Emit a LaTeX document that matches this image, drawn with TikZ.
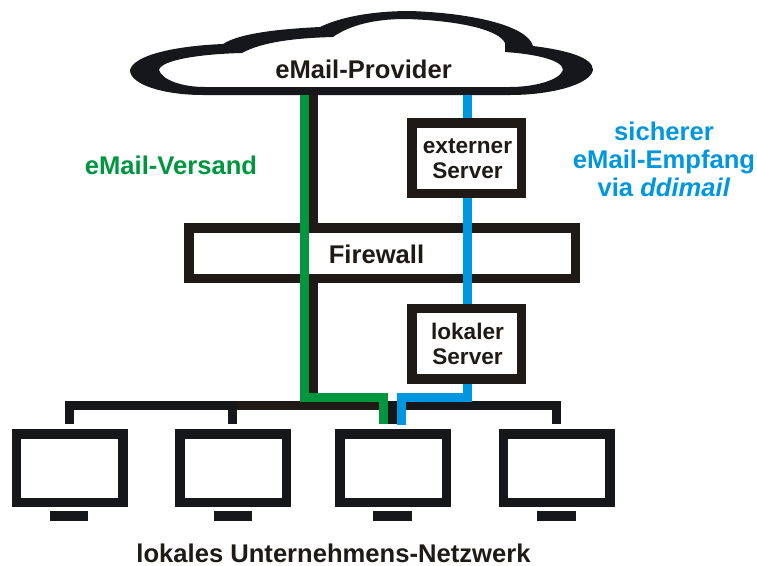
\documentclass[tikz,border=0pt]{standalone}
\usepackage{fontspec}
\setmainfont{Liberation Sans}
\definecolor{ink}{HTML}{16171A}
\definecolor{brownink}{HTML}{201A17}
\definecolor{mailgreen}{HTML}{009640}
\definecolor{mailblue}{HTML}{0096E0}
\tikzset{
  wire/.style={line width=9pt,line join=miter,line cap=butt},
  boxed/.style={draw=brownink,fill=white,line width=9.5pt,inner sep=0pt,outer sep=0pt},
  monitor/.style={draw=ink,fill=white,line width=9.5pt,inner sep=0pt,outer sep=0pt,minimum width=106.5pt,minimum height=68.5pt},
  standbox/.style={fill=ink,inner sep=0pt,outer sep=0pt,minimum width=38.5pt,minimum height=10pt},
  lab/.style={font=\fontsize{25.6}{28}\selectfont\bfseries,align=center,inner sep=0pt},
  srv/.style={font=\fontsize{22.6}{24.6}\selectfont\bfseries,align=center,inner sep=0pt,text=brownink},
}
\begin{document}
\begin{tikzpicture}[x=1pt,y=-1pt]
\useasboundingbox (0,0) rectangle (757,565);
% cloud
\fill[ink,even odd rule]
  (130,70) .. controls (134,55) and (175,46) .. (223,44)
  .. controls (240,33) and (280,29) .. (320,27)
  .. controls (345,15) and (380,11) .. (410,11)
  .. controls (470,13) and (527,25) .. (533,46)
  .. controls (565,50) and (593,57) .. (593,70)
  .. controls (590,85) and (550,95) .. (510,95)
  -- (203,95) .. controls (165,95) and (130,85) .. (130,70) -- cycle
  (159,70) .. controls (161,60) and (200,54) .. (242,53)
  .. controls (262,42) and (295,38) .. (333,37)
  .. controls (350,25) and (375,19) .. (405,19)
  .. controls (450,20) and (498,28) .. (505,43)
  -- (505,52) .. controls (535,54) and (563,60) .. (563,70)
  .. controls (560,80) and (535,87) .. (510,87)
  -- (205,87) .. controls (182,87) and (162,80) .. (159,70) -- cycle;
\node[lab,text=brownink,anchor=base] (provider) at (363.5,78) {eMail-Provider};
% waypoints
\coordinate (gtop) at (304.5,95);
\coordinate (ktop) at (313,95);
\coordinate (btop) at (467.5,95);
\coordinate (gknee) at (304.5,397.5);
\coordinate (kknee) at (313,397.5);
\coordinate (gknee2) at (383.5,397.5);
\coordinate (gend) at (383.5,424);
\coordinate (kdrop) at (392.5,424);
\coordinate (kdroptop) at (392.5,401);
\coordinate (bend) at (401.5,425);
\coordinate (bknee) at (401.5,397.5);
\coordinate (bknee2) at (467.5,397.5);
\coordinate (busL) at (69,405.5);
\coordinate (busR) at (556,405.5);
\coordinate (d1) at (69,424);
\coordinate (d2t) at (232.5,405.5);
\coordinate (d2) at (232.5,424);
\coordinate (d4) at (556,424);
\coordinate (brownL) at (237,405.5);
\coordinate (brownR) at (384,405.5);
% monitors
\node[monitor] (m1) at (69.5,468) {};
\node[monitor] (m2) at (233,468) {};
\node[monitor] (m3) at (393,468) {};
\node[monitor] (m4) at (556.5,468) {};
\node[standbox] (s1) at (69,516) {};
\node[standbox] (s2) at (233,516) {};
\node[standbox] (s3) at (392.5,516) {};
\node[standbox] (s4) at (556.5,516) {};
% bus and black trunk
\draw[wire,ink] (d1) -- (busL) -- (busR) -- (d4);
\draw[wire,ink] (d2t) -- (d2);
\draw[wire,brownink] (brownL) -- (brownR);
\draw[wire,ink] (kdroptop) -- (kdrop);
\draw[wire,brownink] (ktop) -- (kknee);
% firewall
\node[boxed,minimum width=386.5pt,minimum height=50.5pt] (fw) at (382,253) {};
\node[lab,text=brownink,anchor=base] (fwt) at (376.5,263) {Firewall};
% coloured lines
\draw[wire,mailgreen] (gtop) -- (gknee) -- (gknee2) -- (gend);
\draw[wire,mailblue] (btop) -- (bknee2) -- (bknee) -- (bend);
% servers
\node[boxed,minimum width=109.5pt,minimum height=70.5pt] (ext) at (466.5,158) {};
\node[boxed,minimum width=109.5pt,minimum height=70.5pt] (lok) at (466.5,343.5) {};
\node[srv] (extt) at (467.5,158.5) {externer\\Server};
\node[srv] (lokt) at (467.5,344) {lokaler\\Server};
% labels
\node[lab,text=mailgreen,anchor=base] (versand) at (171,174.5) {eMail-Versand};
\node[lab,text=mailblue] (empfang) at (664,159) {sicherer\\eMail-Empfang\\via \textit{ddimail}};
\node[lab,text=brownink,anchor=base] (netz) at (333.5,562) {lokales Unternehmens-Netzwerk};
\end{tikzpicture}
\end{document}
